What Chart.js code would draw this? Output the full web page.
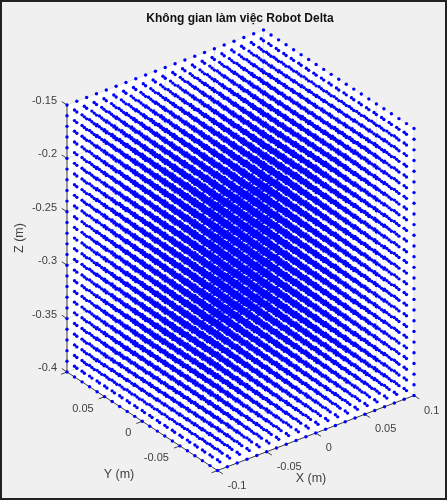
<!DOCTYPE html>
<html lang="vi">

<head>
    <meta charset="UTF-8">
    <title>Không gian làm việc Robot Delta</title>
    <script src="https://cdn.jsdelivr.net/npm/chart.js@4/dist/chart.umd.min.js"></script>
    <style>
        body { margin: 0; }
        canvas { display: block; background: #f0f0f0; outline: 2px solid #222; outline-offset: -2px; filter: blur(0.4px); }
    </style>
</head>

<body>
    <canvas id="chart" width="447" height="500"></canvas>

    <script>
        const titleText = 'Không gian làm việc Robot Delta'
        const xLabel = 'X (m)'
        const yLabel = 'Y (m)'
        const zLabel = 'Z (m)'

        // workspace grid, 1 cm step
        const xGrid = [-0.1, -0.09, -0.08, -0.07, -0.06, -0.05, -0.04, -0.03, -0.02, -0.01, 0, 0.01, 0.02, 0.03, 0.04, 0.05, 0.06, 0.07, 0.08, 0.09, 0.1]
        const yGrid = [-0.1, -0.09, -0.08, -0.07, -0.06, -0.05, -0.04, -0.03, -0.02, -0.01, 0, 0.01, 0.02, 0.03, 0.04, 0.05, 0.06, 0.07, 0.08, 0.09, 0.1]
        const zGrid = [-0.4, -0.39, -0.38, -0.37, -0.36, -0.35, -0.34, -0.33, -0.32, -0.31, -0.3, -0.29, -0.28, -0.27, -0.26, -0.25, -0.24, -0.23, -0.22, -0.21, -0.2, -0.19, -0.18, -0.17, -0.16, -0.15]

        const xTicks = [-0.1, -0.05, 0, 0.05, 0.1]
        const yTicks = [-0.1, -0.05, 0, 0.05, 0.1]
        const zTicks = [-0.4, -0.35, -0.3, -0.25, -0.2, -0.15]
        const yTickLabels = [-0.05, 0, 0.05]

        // view of the 3D box on the page
        const origin = { x: 67, y: 372 }         // x=-0.1, y=0.1, z=-0.4
        const xDir = { x: 196.5 / 0.2, y: -75 / 0.2 }
        const yDir = { x: -150.5 / 0.2, y: -98.5 / 0.2 }
        const zDir = { x: 0, y: -267 / 0.25 }

        function project(x, y, z) {
            const dx = x + 0.1, dy = y - 0.1, dz = z + 0.4
            return {
                x: origin.x + dx * xDir.x + dy * yDir.x + dz * zDir.x,
                y: origin.y + dx * xDir.y + dy * yDir.y + dz * zDir.y
            }
        }

        const points = []
        xGrid.forEach(x => yGrid.forEach(y => zGrid.forEach(z => points.push(project(x, y, z)))))

        //box, grid, axes and texts-------------------------------
        const boxPlugin = {
            id: 'box',
            beforeDatasetsDraw(chart) {
                const ctx = chart.ctx
                const sx = chart.scales.x, sy = chart.scales.y
                const line = (a, b) => {
                    ctx.beginPath()
                    ctx.moveTo(sx.getPixelForValue(a.x), sy.getPixelForValue(a.y))
                    ctx.lineTo(sx.getPixelForValue(b.x), sy.getPixelForValue(b.y))
                    ctx.stroke()
                }
                const zLo = -0.4, zHi = -0.15, lo = -0.1, hi = 0.1

                ctx.save()
                const hex = [project(lo, hi, zLo), project(lo, lo, zLo), project(hi, lo, zLo), project(hi, lo, zHi), project(hi, hi, zHi), project(lo, hi, zHi)]
                ctx.fillStyle = '#fff'
                ctx.beginPath()
                hex.forEach(p => ctx.lineTo(sx.getPixelForValue(p.x), sy.getPixelForValue(p.y)))
                ctx.closePath()
                ctx.fill()

                // grid on the floor and the two back walls
                ctx.strokeStyle = '#e4e4e4'
                ctx.lineWidth = 1
                xTicks.forEach(x => {
                    line(project(x, lo, zLo), project(x, hi, zLo))
                    line(project(x, hi, zLo), project(x, hi, zHi))
                })
                yTicks.forEach(y => {
                    line(project(lo, y, zLo), project(hi, y, zLo))
                    line(project(hi, y, zLo), project(hi, y, zHi))
                })
                zTicks.forEach(z => {
                    line(project(lo, hi, z), project(hi, hi, z))
                    line(project(hi, hi, z), project(hi, lo, z))
                })

                // axes
                ctx.strokeStyle = '#404040'
                line(project(lo, hi, zLo), project(lo, hi, zHi))
                line(project(lo, hi, zLo), project(lo, lo, zLo))
                line(project(lo, lo, zLo), project(hi, lo, zLo))
                xTicks.forEach(x => line(project(x, lo, zLo), project(x, lo - 0.007, zLo)))
                yTicks.forEach(y => line(project(lo, y, zLo), project(lo - 0.006, y, zLo)))
                zTicks.forEach(z => line(project(lo, hi, z), project(lo, hi + 0.007, z)))
                ctx.restore()
            },
            afterDraw(chart) {
                const ctx = chart.ctx
                const sx = chart.scales.x, sy = chart.scales.y
                const px = p => sx.getPixelForValue(p.x)
                const py = p => sy.getPixelForValue(p.y)

                ctx.save()
                ctx.textBaseline = 'middle'
                ctx.fillStyle = '#404040'
                ctx.font = '11px "Liberation Sans"'

                ctx.textAlign = 'left'
                xTicks.forEach(x => {
                    const p = project(x, -0.1, -0.4)
                    ctx.fillText(String(x), px(p) + 10, py(p) + 15)
                })
                ctx.textAlign = 'right'
                yTickLabels.forEach(y => {
                    const p = project(-0.1, y, -0.4)
                    ctx.fillText(String(y), px(p) - 11, py(p) + 12)
                })
                zTicks.forEach(z => {
                    const p = project(-0.1, 0.1, z)
                    ctx.fillText(String(z), px(p) - 10, py(p) - 4)
                })

                ctx.textAlign = 'center'
                ctx.font = '12.5px "Liberation Sans"'
                ctx.fillText(xLabel, 311, 479)
                ctx.fillText(yLabel, 119, 475)
                ctx.save()
                ctx.translate(20, 238)
                ctx.rotate(-Math.PI / 2)
                ctx.fillText(zLabel, 0, 0)
                ctx.restore()

                ctx.fillStyle = '#111'
                ctx.font = 'bold 12px "Liberation Sans"'
                ctx.fillText(titleText, 240, 19)
                ctx.restore()
            }
        }

        //chart-------------------------------------------
        const ctx = document.getElementById('chart').getContext('2d')
        const myChart = new Chart(ctx, {
            type: 'scatter',
            data: {
                datasets: [{
                    label: 'workspace',
                    data: points,
                    backgroundColor: '#0000ff',
                    borderColor: '#0000ff',
                    borderWidth: 0,
                    pointRadius: 1.7,
                    clip: false
                }]
            },
            options: {
                responsive: false,
                animation: false,
                layout: { padding: 0, autoPadding: false },
                plugins: {
                    legend: { display: false },
                    tooltip: { enabled: false }
                },
                scales: {
                    x: { type: 'linear', display: false, min: 0, max: 447 },
                    y: { type: 'linear', display: false, min: 0, max: 500, reverse: true }
                }
            },
            plugins: [boxPlugin]
        })
    </script>
</body>

</html>
